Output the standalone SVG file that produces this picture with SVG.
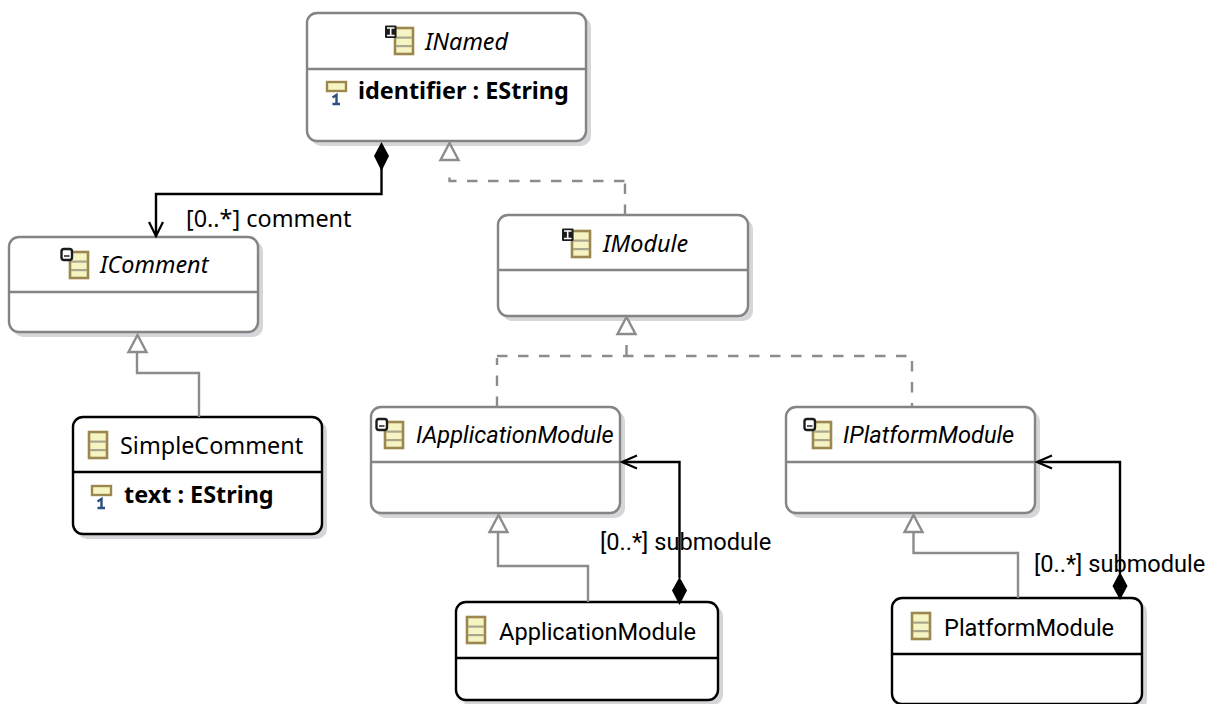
<svg xmlns="http://www.w3.org/2000/svg" width="1212" height="704" viewBox="0 0 1212 704">
<style>
text{font-family:"Noto Sans","DejaVu Sans",sans-serif;font-size:23.4px;fill:#000}
.i{font-style:italic}
.b{font-weight:700}
.r{font-family:Roboto,"Noto Sans",sans-serif;font-size:23.6px}
.box{fill:#fff;stroke-width:2.4}
.abs{stroke:#848484}
.con{stroke:#000}
.shadow{fill:#d6d6da;stroke:none}
.div{stroke-width:2.4}
.dash{fill:none;stroke:#8c8c8c;stroke-width:2.4;stroke-dasharray:10.500 10.500}
.gen{fill:none;stroke:#8c8c8c;stroke-width:2.4}
.tri{fill:#fff;stroke:#8c8c8c;stroke-width:2.4;stroke-linejoin:miter}
.ref{fill:none;stroke:#000;stroke-width:2.4}
.open{fill:none;stroke:#000;stroke-width:2.2}
.dia{fill:#000;stroke:none}
</style>
<defs>
<g id="cls"><rect x="1" y="1" width="18" height="26" fill="#f6f4c2" stroke="#9c874e" stroke-width="2.600"/><rect x="2" y="9.500" width="16" height="2.200" fill="#aaa68e"/><rect x="2" y="18" width="16" height="2.200" fill="#aaa68e"/></g>
<g id="badgeI"><rect x="-9" y="-2.500" width="11.500" height="12.500" rx="1" fill="#1c1c1c"/><path d="M-7 0H0.500M-3.300 0V7.500M-7 7.500H0.500" stroke="#fff" stroke-width="1.600" fill="none"/></g>
<g id="badgeA"><rect x="-7.500" y="-2" width="10.500" height="11" rx="2.500" fill="#fff" stroke="#1c1c1c" stroke-width="2.400"/><path d="M-5 5H0.500" stroke="#333" stroke-width="1.600" fill="none"/></g>
<g id="attr"><rect x="1" y="1" width="19" height="9" fill="#f6f4c2" stroke="#9c874e" stroke-width="2.400"/><path d="M6.500 16.500L10.500 14V23.500M6.500 23H14" stroke="#2c4f80" stroke-width="2.400" fill="none"/></g>
</defs>
<g id="INamed">
<rect class="shadow" x="311" y="17" width="280" height="129" rx="10"/>
<rect class="box abs" x="307" y="13" width="279" height="128" rx="10"/>
<path class="div abs" d="M308 69H585"/>
<use href="#cls" x="394" y="27"/><use href="#badgeI" x="394" y="28"/>
<text class="i" x="425" y="50">INamed</text>
<use href="#attr" x="326" y="81"/>
<text class="b" x="358" y="98.500">identifier : EString</text>
</g>
<g id="IComment">
<rect class="shadow" x="13" y="241" width="250" height="96" rx="10"/>
<rect class="box abs" x="9" y="237" width="249" height="95" rx="10"/>
<path class="div abs" d="M10 292H257"/>
<use href="#cls" x="69" y="251"/><use href="#badgeA" x="69" y="251"/>
<text class="i" x="100" y="273">IComment</text>
</g>
<g id="IModule">
<rect class="shadow" x="502" y="219" width="251" height="102" rx="10"/>
<rect class="box abs" x="498" y="215" width="250" height="101" rx="10"/>
<path class="div abs" d="M499 270H747"/>
<use href="#cls" x="571" y="230"/><use href="#badgeI" x="571" y="231"/>
<text class="i" x="603" y="252">IModule</text>
</g>
<g id="SimpleComment">
<rect class="shadow" x="77" y="421" width="250" height="118" rx="10"/>
<rect class="box con" x="73" y="417" width="249" height="117" rx="10"/>
<path class="div con" d="M74 472H321"/>
<use href="#cls" x="88" y="431"/>
<text x="120" y="454">SimpleComment</text>
<use href="#attr" x="91" y="485"/>
<text class="b" x="124" y="503">text : EString</text>
</g>
<g id="IApplicationModule">
<rect class="shadow" x="375" y="411" width="250" height="107" rx="10"/>
<rect class="box abs" x="371" y="407" width="249" height="106" rx="10"/>
<path class="div abs" d="M372 462H619"/>
<use href="#cls" x="384" y="421"/><use href="#badgeA" x="384" y="421"/>
<text class="i r" x="416" y="443">IApplicationModule</text>
</g>
<g id="IPlatformModule">
<rect class="shadow" x="790" y="411" width="250" height="107" rx="10"/>
<rect class="box abs" x="786" y="407" width="249" height="106" rx="10"/>
<path class="div abs" d="M787 462H1034"/>
<use href="#cls" x="812" y="421"/><use href="#badgeA" x="812" y="421"/>
<text class="i r" x="843" y="443">IPlatformModule</text>
</g>
<g id="ApplicationModule">
<rect class="shadow" x="460" y="606" width="263" height="99" rx="10"/>
<rect class="box con" x="456" y="602" width="262" height="98" rx="10"/>
<path class="div con" d="M457 658H717"/>
<use href="#cls" x="466" y="616"/>
<text class="r" x="499" y="639.500">ApplicationModule</text>
</g>
<g id="PlatformModule">
<rect class="shadow" x="896" y="602" width="251" height="108" rx="10"/>
<rect class="box con" x="892" y="598" width="250" height="106" rx="10"/>
<path class="div con" d="M893 654H1141"/>
<use href="#cls" x="911" y="612"/>
<text class="r" x="944" y="635.500">PlatformModule</text>
</g>
<g id="connectors">
<path class="dash" d="M625 215V183M624.500 181H449.500V171"/>
<path class="tri" d="M449.500 143L440.500 160H458.500Z"/>
<path class="dash" d="M626.500 345V356"/>
<path class="dash" d="M497 407V358M497 356H912V407"/>
<path class="tri" d="M626.500 317L617.500 334H635.500Z"/>
<path class="gen" d="M137 352V373H199V417"/>
<path class="tri" d="M137.500 335L128.500 352H146.500Z"/>
<path class="gen" d="M498 532V566H588V602"/>
<path class="tri" d="M498.500 515L489.500 532H507.500Z"/>
<path class="gen" d="M913.500 532V553H1018V598"/>
<path class="tri" d="M913.500 515L904.500 532H922.500Z"/>
<path class="ref" d="M381.500 165V194H156V236"/>
<path class="open" d="M149 222L156 236L163 222"/>
<path class="dia" d="M381.500 142L389 156L381.500 171L374 156Z"/>
<path class="ref" d="M679.500 578V462H623"/>
<path class="open" d="M637 455.500L622 462L637 468.500"/>
<path class="dia" d="M679.500 577L687 590.500L679.500 605L672 590.500Z"/>
<path class="ref" d="M1120 574V462H1038"/>
<path class="open" d="M1052 455.500L1037 462L1052 468.500"/>
<path class="dia" d="M1120 572L1127.500 586L1120 600L1112.500 586Z"/>
</g>
<g id="labels">
<text class="r" x="186" y="227" style="font-family:'Noto Sans',sans-serif;font-size:23.4px">[0..*] comment</text>
<text class="r" x="600" y="549.500">[0..*] submodule</text>
<text class="r" x="1034" y="572">[0..*] submodule</text>
</g>
</svg>
